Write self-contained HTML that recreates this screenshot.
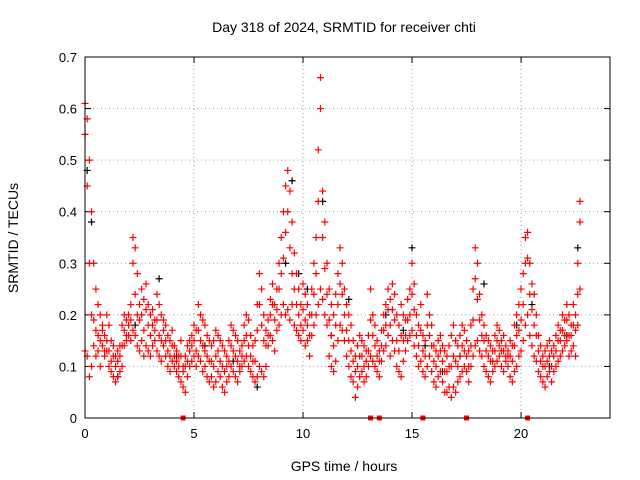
<!DOCTYPE html>
<html><head><meta charset="utf-8">
<style>
html,body{margin:0;padding:0;background:#fff;}
svg{display:block;font-family:"Liberation Sans",sans-serif;}
</style></head>
<body>
<svg id="chart" width="640" height="480" viewBox="0 0 640 480">
<text x="344" y="32" font-size="14" text-anchor="middle" fill="#000">Day 318 of 2024, SRMTID for receiver chti</text>
<text x="0" y="0" font-size="14" text-anchor="middle" fill="#000" transform="translate(18,238) rotate(-90)">SRMTID / TECUs</text>
<text x="344" y="471" font-size="14" text-anchor="middle" fill="#000">GPS time / hours</text>
<g id="grid"></g>
<g id="ticks"></g>
<g id="marks"></g>
<rect x="85" y="57" width="525" height="361" fill="none" stroke="#000" stroke-width="1"/>
</svg>
<script>
const xTicks=[0,5,10,15,20];
const yTicks=[0,0.1,0.2,0.3,0.4,0.5,0.6,0.7];
const yTickLabels=["0","0.1","0.2","0.3","0.4","0.5","0.6","0.7"];
const times=[0.0,0.1,0.2,0.3,0.4,0.5,0.6,0.7,0.8,0.9,1.0,1.1,1.2,1.3,1.4,1.5,1.6,1.7,1.8,1.9,
2.0,2.1,2.2,2.3,2.4,2.5,2.6,2.7,2.8,2.9,3.0,3.1,3.2,3.3,3.4,3.5,3.6,3.7,3.8,3.9,
4.0,4.1,4.2,4.3,4.4,4.5,4.6,4.7,4.8,4.9,5.0,5.1,5.2,5.3,5.4,5.5,5.6,5.7,5.8,5.9,
6.0,6.1,6.2,6.3,6.4,6.5,6.6,6.7,6.8,6.9,7.0,7.1,7.2,7.3,7.4,7.5,7.6,7.7,7.8,7.9,
8.0,8.1,8.2,8.3,8.4,8.5,8.6,8.7,8.8,8.9,9.0,9.1,9.2,9.3,9.4,9.5,9.6,9.7,9.8,9.9,
10.0,10.1,10.2,10.3,10.4,10.5,10.6,10.7,10.8,10.9,11.0,11.1,11.2,11.3,11.4,11.5,11.6,11.7,11.8,11.9,
12.0,12.1,12.2,12.3,12.4,12.5,12.6,12.7,12.8,12.9,13.0,13.1,13.2,13.3,13.4,13.5,13.6,13.7,13.8,13.9,
14.0,14.1,14.2,14.3,14.4,14.5,14.6,14.7,14.8,14.9,15.0,15.1,15.2,15.3,15.4,15.5,15.6,15.7,15.8,15.9,
16.0,16.1,16.2,16.3,16.4,16.5,16.6,16.7,16.8,16.9,17.0,17.1,17.2,17.3,17.4,17.5,17.6,17.7,17.8,17.9,
18.0,18.1,18.2,18.3,18.4,18.5,18.6,18.7,18.8,18.9,19.0,19.1,19.2,19.3,19.4,19.5,19.6,19.7,19.8,19.9,
20.0,20.1,20.2,20.3,20.4,20.5,20.6,20.7,20.8,20.9,21.0,21.1,21.2,21.3,21.4,21.5,21.6,21.7,21.8,21.9,
22.0,22.1,22.2,22.3,22.4,22.5,22.6,22.7];
const redHigh=[.61,.58,.50,.40,.30,.25,.22,.20,.18,.16,.20,.18,.15,.14,.12,.13,.14,.18,.20,.19,
.20,.22,.35,.33,.28,.22,.25,.23,.26,.22,.20,.21,.19,.24,.22,.20,.19,.18,.16,.15,
.17,.14,.13,.12,.15,.10,.12,.14,.15,.16,.18,.17,.22,.20,.19,.18,.16,.15,.14,.15,
.17,.16,.15,.14,.13,.12,.15,.18,.17,.16,.15,.13,.14,.18,.20,.19,.16,.14,.15,.22,
.28,.25,.20,.17,.19,.23,.26,.22,.25,.30,.35,.40,.45,.48,.44,.38,.32,.28,.25,.22,
.26,.24,.22,.20,.25,.30,.35,.52,.66,.44,.38,.30,.25,.22,.20,.24,.28,.33,.30,.25,
.22,.20,.18,.15,.12,.14,.16,.15,.14,.13,.16,.25,.20,.18,.15,.13,.17,.20,.22,.25,
.23,.26,.24,.20,.18,.22,.20,.19,.23,.25,.30,.26,.20,.18,.22,.16,.15,.24,.20,.18,
.14,.13,.15,.16,.14,.13,.12,.14,.16,.18,.15,.14,.16,.18,.17,.15,.13,.18,.25,.33,
.30,.24,.20,.18,.16,.15,.14,.13,.16,.18,.17,.15,.16,.14,.13,.15,.14,.18,.20,.22,
.25,.28,.35,.36,.30,.26,.24,.20,.16,.14,.12,.13,.14,.15,.13,.14,.16,.18,.17,.20,
.19,.22,.20,.18,.22,.20,.30,.42];
const redMid=[.55,.45,.30,.20,.19,.17,.16,.15,.17,.13,.15,.13,.11,.12,.10,.11,.12,.14,.17,.16,
.18,.19,.30,.24,.20,.19,.20,.17,.21,.18,.16,.18,.17,.19,.16,.15,.17,.15,.13,.12,
.14,.12,.11,.10,.12,.09,.10,.11,.13,.14,.15,.13,.17,.15,.14,.13,.12,.11,.11,.10,
.12,.13,.11,.10,.09,.10,.11,.14,.13,.12,.11,.10,.12,.15,.16,.14,.12,.11,.11,.17,
.22,.18,.15,.14,.16,.20,.22,.19,.21,.25,.28,.31,.36,.40,.33,.28,.25,.22,.20,.18,
.21,.19,.18,.16,.20,.24,.28,.42,.60,.35,.29,.24,.19,.16,.14,.18,.22,.26,.24,.20,
.17,.15,.13,.11,.09,.10,.12,.12,.10,.11,.13,.19,.16,.14,.12,.11,.14,.17,.18,.21,
.18,.21,.19,.15,.13,.16,.15,.16,.19,.20,.24,.21,.16,.14,.17,.13,.12,.18,.16,.14,
.11,.10,.12,.13,.11,.09,.09,.10,.10,.12,.11,.10,.12,.14,.13,.12,.10,.14,.19,.27,
.23,.19,.16,.15,.13,.12,.11,.11,.13,.15,.14,.13,.13,.12,.12,.12,.11,.14,.16,.17,
.19,.22,.30,.31,.24,.21,.18,.16,.13,.11,.10,.10,.11,.12,.10,.12,.13,.15,.15,.17,
.16,.19,.16,.16,.18,.17,.24,.38];
const redLow=[.13,.12,.08,.10,.14,.12,.13,.10,.14,.12,.13,.10,.09,.08,.07,.08,.09,.10,.14,.15,
.16,.15,.17,.16,.14,.13,.15,.12,.14,.13,.12,.14,.15,.13,.12,.11,.14,.12,.10,.09,
.11,.10,.09,.08,.07,.06,.05,.08,.10,.11,.12,.10,.12,.11,.09,.10,.08,.07,.08,.06,
.07,.09,.08,.06,.05,.07,.08,.10,.09,.08,.07,.09,.10,.11,.12,.10,.09,.08,.07,.08,
.10,.09,.08,.10,.14,.16,.15,.13,.17,.18,.20,.22,.20,.21,.19,.22,.18,.17,.16,.15,
.17,.14,.15,.12,.16,.18,.20,.22,.25,.23,.20,.18,.12,.10,.09,.11,.15,.18,.17,.15,
.12,.10,.08,.07,.04,.06,.08,.09,.07,.08,.10,.12,.11,.10,.09,.08,.11,.13,.14,.16,
.12,.15,.13,.10,.09,.08,.11,.13,.15,.16,.17,.14,.12,.10,.11,.09,.08,.10,.12,.09,
.07,.06,.08,.09,.07,.05,.05,.06,.04,.06,.05,.07,.08,.09,.10,.09,.07,.10,.12,.14,
.15,.13,.12,.10,.09,.08,.07,.09,.10,.11,.12,.10,.09,.11,.10,.08,.07,.09,.10,.12,
.13,.15,.18,.20,.16,.14,.12,.11,.09,.08,.07,.06,.08,.09,.07,.09,.10,.11,.12,.13,
.14,.15,.12,.13,.14,.12,.18,.25];
const blackTimes=[0.1,0.3,1.5,2.3,3.4,4.2,5.5,6.8,7.9,8.6,9.2,9.5,9.8,10.2,10.9,11.3,12.1,13.8,14.6,15.0,15.6,16.4,17.2,18.3,19.1,19.8,20.5,21.3,22.1,22.6];
const blackValues=[.48,.38,.08,.18,.27,.12,.14,.11,.06,.22,.30,.46,.28,.25,.42,.16,.23,.20,.17,.33,.14,.09,.12,.26,.13,.18,.22,.10,.16,.33];
const zeroTimes=[4.5,13.1,13.5,15.5,17.5,20.3];

const X0=85,X1=610,Y0=418,Y1=57,XMAX=24.08,YMAX=0.7;
const xs=t=>X0+(X1-X0)*t/XMAX;
const ys=v=>Y0-(Y0-Y1)*v/YMAX;
const NS="http://www.w3.org/2000/svg";
const grid=document.getElementById('grid'),ticks=document.getElementById('ticks'),marks=document.getElementById('marks');
function mk(tag,attrs,parent){const e=document.createElementNS(NS,tag);for(const k in attrs)e.setAttribute(k,attrs[k]);parent.appendChild(e);return e;}
xTicks.forEach(t=>{
  const x=xs(t);
  if(t>0){const g=mk('line',{x1:x,x2:x,y1:Y1,y2:Y0,stroke:'#a0a0a0','stroke-dasharray':'1,3'},grid);
  
  }
  mk('line',{x1:x,x2:x,y1:Y0,y2:Y0-6,stroke:'#000'},ticks);
  mk('line',{x1:x,x2:x,y1:Y1,y2:Y1+6,stroke:'#000'},ticks);
  const tx=mk('text',{x:x,y:Y0+20,'font-size':13,'text-anchor':'middle'},ticks);
  tx.textContent=t;
  
  
});
yTicks.forEach((v,i)=>{
  const y=ys(v);
  if(v>0&&v<YMAX){const g=mk('line',{x1:X0,x2:X1,y1:y,y2:y,stroke:'#a0a0a0','stroke-dasharray':'1,3'},grid);
  
  }
  mk('line',{x1:X0,x2:X0+6,y1:y,y2:y,stroke:'#000'},ticks);
  mk('line',{x1:X1,x2:X1-6,y1:y,y2:y,stroke:'#000'},ticks);
  const tx=mk('text',{x:X0-8,y:y+5,'font-size':13,'text-anchor':'end'},ticks);
  tx.textContent=yTickLabels[i];
  
  
});
function plus(t,v,c,name){
  const x=xs(t),y=ys(v);
  const p=mk('path',{d:`M${x-3.5},${y}h7M${x},${y-3.5}v7`,stroke:c,'stroke-width':1.2},marks);
  
  
}
blackTimes.forEach((t,i)=>plus(t,blackValues[i],'#000','black-point'));
times.forEach((t,i)=>{
  plus(t,redHigh[i],'#ff0000','red-point-high');
  plus(t,redMid[i],'#ff0000','red-point-mid');
  plus(t,redLow[i],'#ff0000','red-point-low');
});
zeroTimes.forEach(t=>{
  const r=mk('rect',{x:xs(t)-2.5,y:Y0-2.5,width:5,height:5,fill:'#ff0000'},marks);
  
  
});
</script>
</body></html>
